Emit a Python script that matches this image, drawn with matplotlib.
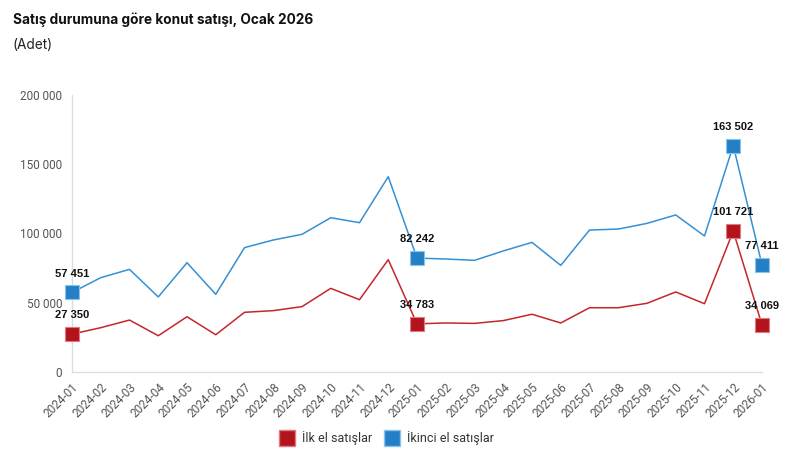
import matplotlib.pyplot as plt
from matplotlib.lines import Line2D

months = ['2024-01', '2024-02', '2024-03', '2024-04', '2024-05', '2024-06',
          '2024-07', '2024-08', '2024-09', '2024-10', '2024-11', '2024-12',
          '2025-01', '2025-02', '2025-03', '2025-04', '2025-05', '2025-06',
          '2025-07', '2025-08', '2025-09', '2025-10', '2025-11', '2025-12',
          '2026-01']

# ilk el satislar (first-hand sales)
ilk_el = [27350, 32000, 37500, 26200, 39900, 26900, 43100, 44300, 47200,
          60400, 52200, 81100, 34783, 35400, 35100, 37100, 41700, 35400,
          46400, 46400, 49600, 57800, 49300, 101721, 34069]

# ikinci el satislar (second-hand sales)
ikinci_el = [57451, 68100, 74100, 54200, 78900, 56100, 89800, 95300, 99400,
             111400, 107800, 141000, 82242, 81600, 80600, 87400, 93600, 77000,
             102500, 103200, 107300, 113400, 98200, 163502, 77411]

highlight = [0, 12, 23, 24]
yticks = [0, 50000, 100000, 150000, 200000]

red_line, red_mk = '#c4262e', '#b3141c'
blue_line, blue_mk = '#3590d4', '#2480c6'

plt.rcParams['font.family'] = ['Roboto', 'DejaVu Sans']

fig = plt.figure(figsize=(7.89, 4.68), dpi=100)
ax = fig.add_axes([72 / 789, 1 - 372 / 468, 690 / 789, 277 / 468])

x = list(range(len(months)))
ax.plot(x, ilk_el, color=red_line, lw=1.1, zorder=2)
ax.plot(x, ikinci_el, color=blue_line, lw=1.1, zorder=2)

def fmt(v):
    return f'{v:,}'.replace(',', ' ')

for i in highlight:
    for vals, c, ec in [(ilk_el, red_mk, '#e07a80'), (ikinci_el, blue_mk, '#8cc2ea')]:
        ax.plot(i, vals[i], marker='s', ms=10.5, color=c, mec=ec, mew=0.8,
                zorder=3, clip_on=False)
        ax.annotate(fmt(vals[i]), (i, vals[i]), xytext=(0, 10),
                    textcoords='offset points', ha='center', va='bottom',
                    fontsize=8, fontweight='bold', color='#111111',
                    family=['Liberation Sans', 'DejaVu Sans'])

ax.set_xlim(0, len(months) - 1)
ax.set_ylim(0, 200000)
ax.set_xticks(x)
ax.set_xticklabels(months, rotation=45, ha='right', rotation_mode='anchor',
                   fontsize=8.5, color='#555555')
ax.set_yticks(yticks)
ax.set_yticklabels([fmt(v) for v in yticks], fontsize=8.5, color='#555555')
ax.tick_params(axis='both', length=0)
ax.tick_params(axis='x', pad=6)
ax.tick_params(axis='y', pad=7)

for s in ['top', 'right']:
    ax.spines[s].set_visible(False)
for s in ['left', 'bottom']:
    ax.spines[s].set_color('#dddddd')
    ax.spines[s].set_linewidth(1)

fig.text(13 / 789, 1 - 20 / 468, 'Satış durumuna göre konut satışı, Ocak 2026',
         fontsize=9.8, fontweight='bold', color='#111111', va='center',
         family=['Inter', 'DejaVu Sans'])
fig.text(13 / 789, 1 - 45 / 468, '(Adet)', fontsize=9.8, color='#222222',
         va='center', family=['Inter', 'DejaVu Sans'])

handles = [Line2D([], [], marker='s', ls='', ms=11, color=red_mk, mec='#e07a80'),
           Line2D([], [], marker='s', ls='', ms=11, color=blue_mk, mec='#8cc2ea')]
fig.legend(handles, ['İlk el satışlar', 'İkinci el satışlar'], loc='center',
           bbox_to_anchor=(384 / 789, 1 - 438 / 468), ncol=2, frameon=False,
           fontsize=9, handletextpad=0.2, columnspacing=0.6,
           labelcolor='#333333')

fig.savefig('out.png', dpi=100)
